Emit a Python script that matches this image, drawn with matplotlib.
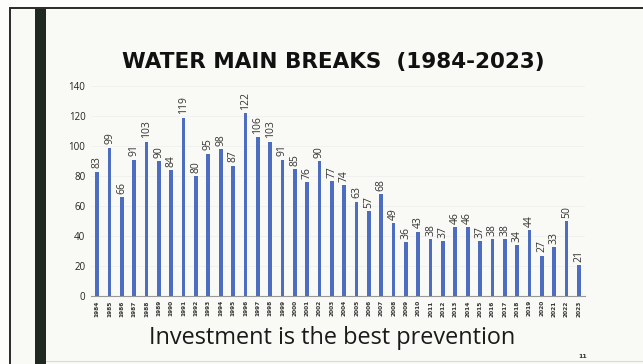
import matplotlib
matplotlib.use("Agg")
import matplotlib.pyplot as plt
from matplotlib.lines import Line2D
from matplotlib.patches import Rectangle

years = [str(y) for y in range(1984, 2024)]
breaks = [83, 99, 66, 91, 103, 90, 84, 119, 80, 95, 98, 87, 122, 106, 103, 91,
          85, 76, 90, 77, 74, 63, 57, 68, 49, 36, 43, 38, 37, 46, 46, 37, 38,
          38, 34, 44, 27, 33, 50, 21]
y_ticks = [0, 20, 40, 60, 80, 100, 120, 140]

BG = "#f9f9f5"
BAR = "#4d6ec0"

fig = plt.figure(figsize=(6.43, 3.64), dpi=100)
fig.patch.set_facecolor("#fdfdfc")

# slide frame: thin outline, dark accent stripe on the left (kept behind the axes)
fig.add_artist(Rectangle((10 / 643, -0.01), 640 / 643, 1.01 - 8 / 364, transform=fig.transFigure,
                         facecolor=BG, edgecolor="#2a2a2a", lw=1.4, zorder=-5))
fig.add_artist(Rectangle((35 / 643, 0), 11 / 643, 1 - 9 / 364, transform=fig.transFigure,
                         facecolor="#202822", edgecolor="none", zorder=-4))
fig.add_artist(Line2D([46 / 643, 1], [3 / 364, 3 / 364], transform=fig.transFigure,
                      color="#d8d8d8", lw=0.8, zorder=-4))

ax = fig.add_axes([91 / 643, 1 - 296 / 364, 494 / 643, 210 / 364])
ax.set_facecolor("none")
x = range(len(years))
ax.bar(x, breaks, width=0.3, color=BAR, zorder=3)
for xi, v in zip(x, breaks):
    ax.text(xi, v + 2, str(v), rotation=90, ha="center", va="bottom",
            fontsize=7.5, color="#333333", family="Open Sans")

ax.set_xlim(-0.5, len(years) - 0.5)
ax.set_ylim(0, 140)
ax.set_yticks(y_ticks)
ax.set_yticklabels([str(t) for t in y_ticks], fontsize=7, color="#222222", family="Open Sans")
ax.set_xticks(list(x))
ax.set_xticklabels(years, rotation=90, fontsize=4.2, fontweight="bold", color="#333333")
ax.tick_params(axis="both", length=0, pad=4)
ax.tick_params(axis="x", pad=3)
ax.yaxis.grid(True, color="#f0f0ee", lw=0.6, zorder=0)
for s in ["top", "right", "left"]:
    ax.spines[s].set_visible(False)
ax.spines["bottom"].set_color("#999999")
ax.spines["bottom"].set_linewidth(0.8)

fig.text(333 / 643, 1 - 62 / 364, "WATER MAIN BREAKS  (1984-2023)", ha="center", va="center",
         fontsize=15.5, fontweight="bold", family="DejaVu Sans", color="#111111")
fig.text(332 / 643, 1 - 338 / 364, "Investment is the best prevention", ha="center",
         va="center", fontsize=16.9, family="Open Sans", color="#1a1a1a")
fig.text(583 / 643, 1 - 356 / 364, "11", ha="center", va="center", fontsize=4.5,
         fontweight="bold", color="#333333")

fig.savefig("out.png", dpi=100, facecolor=fig.get_facecolor())
